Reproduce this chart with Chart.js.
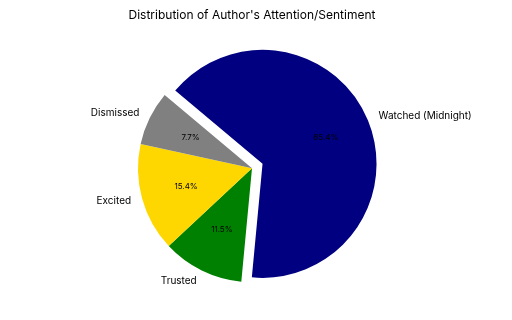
<!DOCTYPE html>
<html>
<head>
<meta charset="utf-8">
<script src="https://cdn.jsdelivr.net/npm/chart.js@4"></script>
<style>
  html, body { margin: 0; padding: 0; background: #fff; }
</style>
</head>
<body>
<canvas id="pieChart" width="512" height="320"></canvas>
<script>
// slices listed clockwise, starting at the upper-left edge
const labels = ['Watched (Midnight)', 'Trusted', 'Excited', 'Dismissed'];
const counts = [17, 3, 4, 2];
const colors = ['#000080', '#008000', '#ffd700', '#808080'];

const FONT = 'Inter, Roboto, "DejaVu Sans", sans-serif';
const explodeIndex = 0;
const explodePx = 11.4;

// pushes the "Watched" wedge out and writes labels + percentages
const pieLabels = {
    id: 'pieLabels',
    afterDatasetUpdate(chart, args) {
        let arc = args.meta.data[explodeIndex];
        let mid = (arc.startAngle + arc.endAngle) / 2;
        arc.x += Math.cos(mid) * explodePx;
        arc.y += Math.sin(mid) * explodePx;
    },
    afterDatasetsDraw(chart) {
        let ctx = chart.ctx;
        let meta = chart.getDatasetMeta(0);
        let total = counts.reduce((a, b) => a + b, 0);
        meta.data.forEach((arc, i) => {
            let mid = (arc.startAngle + arc.endAngle) / 2;
            let r = arc.outerRadius;
            let cos = Math.cos(mid), sin = Math.sin(mid);
            ctx.save();
            ctx.fillStyle = '#000';
            ctx.textBaseline = 'middle';
            ctx.font = '10px ' + FONT;
            ctx.textAlign = cos >= 0 ? 'left' : 'right';
            ctx.fillText(labels[i], arc.x + cos * r * 1.1, arc.y + sin * r * 1.1);
            ctx.font = '8px ' + FONT;
            ctx.textAlign = 'center';
            ctx.fillText((counts[i] / total * 100).toFixed(1) + '%', arc.x + cos * r * 0.6, arc.y + sin * r * 0.6);
            ctx.restore();
        });
    }
};

new Chart(document.getElementById('pieChart').getContext('2d'), {
    type: 'pie',
    data: {
        labels: labels,
        datasets: [{
            data: counts,
            backgroundColor: colors,
            borderWidth: 0
        }]
    },
    options: {
        responsive: false,
        animation: false,
        events: [],
        rotation: -50,
        radius: 114,
        layout: { padding: { left: 0, right: 8, top: 0, bottom: 6 } },
        plugins: {
            legend: { display: false },
            tooltip: { enabled: false },
            title: {
                display: true,
                text: "Distribution of Author's Attention/Sentiment",
                color: '#000',
                font: { family: FONT, size: 12, weight: 'normal' },
                padding: { top: 8, bottom: 0 }
            }
        }
    },
    plugins: [pieLabels]
});
</script>
</body>
</html>
